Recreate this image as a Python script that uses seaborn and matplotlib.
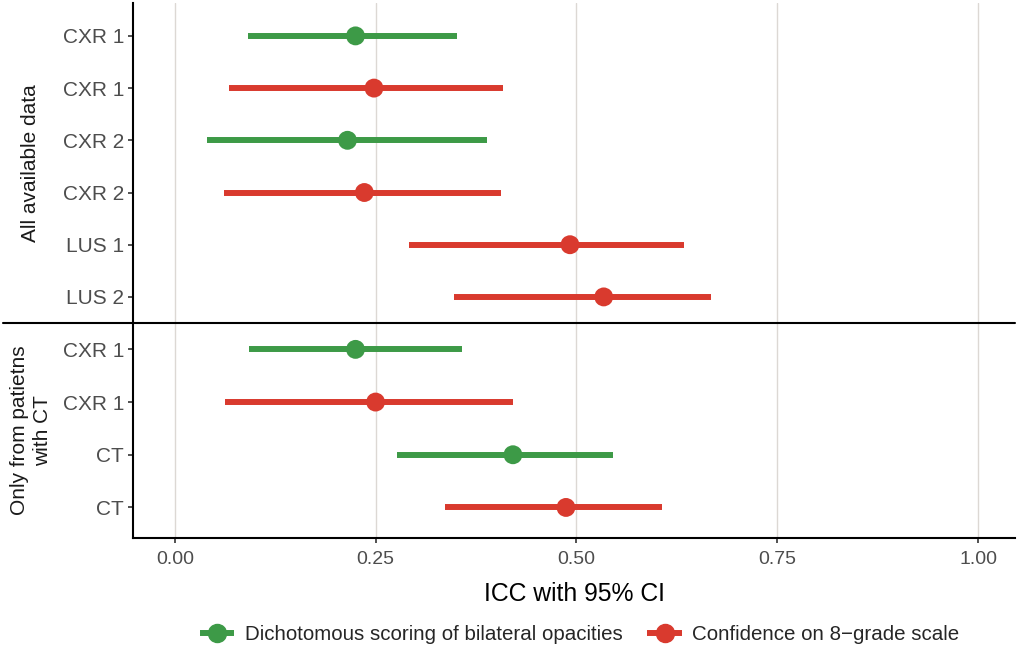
import matplotlib
matplotlib.use("Agg")
import matplotlib.pyplot as plt
import matplotlib.transforms as mtransforms
from matplotlib.lines import Line2D
import seaborn as sns
import pandas as pd

DICH = "Dichotomous scoring of bilateral opacities"
CONF = "Confidence on 8\u2212grade scale"

# panel 1: all available data
top_labels = ["CXR 1", "CXR 1", "CXR 2", "CXR 2", "LUS 1", "LUS 2"]
top_method = [DICH, CONF, DICH, CONF, CONF, CONF]
top_icc = [0.225, 0.248, 0.215, 0.236, 0.492, 0.534]
top_lo = [0.091, 0.067, 0.040, 0.061, 0.292, 0.347]
top_hi = [0.351, 0.408, 0.389, 0.406, 0.634, 0.668]

# panel 2: only patients with CT
bot_labels = ["CXR 1", "CXR 1", "CT", "CT"]
bot_method = [DICH, CONF, DICH, CONF]
bot_icc = [0.225, 0.250, 0.421, 0.487]
bot_lo = [0.093, 0.062, 0.277, 0.337]
bot_hi = [0.358, 0.421, 0.545, 0.606]

strip_top = "All available data"
strip_bot = "Only from patietns\nwith CT"
x_ticks = [0.0, 0.25, 0.5, 0.75, 1.0]
x_ticklabels = ["0.00", "0.25", "0.50", "0.75", "1.00"]

palette = {DICH: "#3d9a47", CONF: "#d93a2e"}

sns.set_style("white")
plt.rcParams["font.family"] = ["Liberation Sans", "DejaVu Sans"]

W, H = 1021, 652
fig = plt.figure(figsize=(W / 100, H / 100), dpi=100)
left = 133 / W
width = (1015 - 133) / W
ax_top = fig.add_axes([left, 1 - 322.5 / H, width, (322.5 - 3) / H])
ax_bot = fig.add_axes([left, 1 - 538 / H, width, (538 - 322.5) / H])


def draw_panel(ax, labels, method, icc, lo, hi, ylim, strip):
    df = pd.DataFrame({"row": range(len(labels)), "label": labels,
                       "method": method, "icc": icc, "lo": lo, "hi": hi})
    for ix in x_ticks:
        ax.axvline(ix, color="#dcd8d4", lw=1.0, zorder=0)
    ax.hlines(df["row"], df["lo"], df["hi"],
              colors=[palette[m] for m in df["method"]],
              lw=4.3, capstyle="butt", zorder=2)
    sns.scatterplot(data=df, x="icc", y="row", hue="method", palette=palette,
                    s=185, linewidth=0, ax=ax, legend=False, zorder=3)
    ax.set_yticks(df["row"])
    ax.set_yticklabels(df["label"])
    ax.set_ylim(*ylim)
    ax.set_xlim(-0.052, 1.046)
    ax.set_xticks(x_ticks)
    ax.set_ylabel("")
    ax.set_xlabel("")
    for s in ["top", "right", "bottom"]:
        ax.spines[s].set_visible(False)
    ax.spines["left"].set_linewidth(1.5)
    ax.spines["left"].set_color("black")
    ax.tick_params(axis="y", length=3.5, width=1.2, color="#333333",
                   labelsize=15, labelcolor="#4d4d4d", pad=3, left=True)
    trans = mtransforms.blended_transform_factory(fig.transFigure, ax.transAxes)
    ax.text(31 / W, 0.5, strip, transform=trans, rotation=90,
            ha="center", va="center", multialignment="center",
            fontsize=15, color="#1a1a1a", linespacing=1.25)


draw_panel(ax_top, top_labels, top_method, top_icc, top_lo, top_hi,
           (5.49, -0.63), strip_top)
draw_panel(ax_bot, bot_labels, bot_method, bot_icc, bot_lo, bot_hi,
           (3.58, -0.51), strip_bot)

ax_top.tick_params(axis="x", bottom=False, labelbottom=False)
ax_bot.spines["bottom"].set_visible(True)
ax_bot.spines["bottom"].set_linewidth(1.5)
ax_bot.spines["bottom"].set_color("black")
ax_bot.set_xticklabels(x_ticklabels)
ax_bot.tick_params(axis="x", bottom=True, length=3.5, width=1.2,
                   color="#333333", labelsize=14, labelcolor="#4d4d4d", pad=6)
ax_bot.set_xlabel("ICC with 95% CI", fontsize=17.8, color="black", labelpad=10)

# separator line between the two panels, running through the strip area
fig.add_artist(Line2D([3 / W, 1015 / W], [1 - 322.5 / H, 1 - 322.5 / H],
                      transform=fig.transFigure, color="black", lw=1.5))

handles = [Line2D([], [], color=palette[m], lw=4.3, marker="o",
                  markersize=13, solid_capstyle="butt") for m in [DICH, CONF]]
fig.legend(handles, [DICH, CONF], loc="center", ncol=2,
           bbox_to_anchor=(579.5 / W, 1 - 635 / H), frameon=False,
           fontsize=14.8, handlelength=1.7, handletextpad=0.5,
           columnspacing=1.2)

fig.savefig("out.png", dpi=100)
